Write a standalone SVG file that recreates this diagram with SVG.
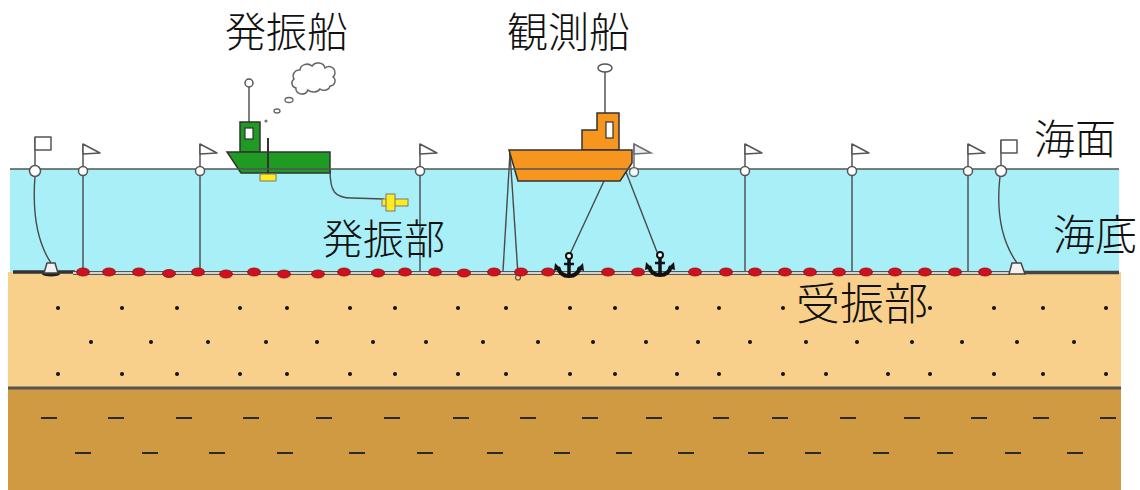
<svg xmlns="http://www.w3.org/2000/svg" width="1140" height="490" viewBox="0 0 1140 490">
  <style>
    .lbl { font-family: "Noto Sans CJK JP", "Noto Sans", sans-serif; font-weight: 300; fill: #111; }
    .line { stroke: #4a4a4a; stroke-width: 1.4; fill: none; }
    .outline { stroke: #333; stroke-width: 1.5; }
    .flag { fill: #fff; stroke: #555; stroke-width: 1.5; stroke-linejoin: round; }
    .buoy { fill: #fff; stroke: #555; stroke-width: 1.5; }
    .rx { fill: #d0101e; stroke: #8a0a10; stroke-width: 0.8; }
    .dot { fill: #111; }
    .dash { stroke: #2a2a2a; stroke-width: 2; }
    .weight { fill: #f2f2f2; stroke: #444; stroke-width: 1.5; }
  </style>
  <defs>
    <g id="anchor">
      <circle cx="0" cy="0" r="3" fill="#fff" stroke="#111" stroke-width="2"/>
      <line x1="0" y1="3" x2="0" y2="18" stroke="#111" stroke-width="3.5"/>
      <line x1="-5" y1="8" x2="5" y2="8" stroke="#111" stroke-width="2.5"/>
      <path d="M-11,11 Q-9,20 0,20 Q9,20 11,11" stroke="#111" stroke-width="4" fill="none"/>
      <polygon points="-14,7 -8,13 -15,15" fill="#111"/>
      <polygon points="14,7 8,13 15,15" fill="#111"/>
    </g>
    <polygon id="tflag" class="flag" points="0,0 17,9 0,10"/>
  </defs>

  <rect width="1140" height="490" fill="#fff"/>

  <!-- ground layers -->
  <g id="sea">
    <rect x="10" y="169" width="1109" height="103" fill="#a9eff7"/>
  </g>
  <g id="sediment">
    <rect x="8" y="272" width="1113" height="116" fill="#f9d08b"/>
    <rect x="8" y="388" width="1113" height="102" fill="#cf9a42"/>
    <line x1="8" y1="388" x2="1121" y2="388" stroke="#555" stroke-width="3"/>
  </g>

  <!-- sand grain dots -->
  <g id="sand-dots">
    <g transform="translate(0,308)">
      <circle class="dot" cx="58" cy="0" r="2"/><circle class="dot" cx="122" cy="0" r="2"/><circle class="dot" cx="177" cy="0" r="2"/><circle class="dot" cx="240" cy="0" r="2"/><circle class="dot" cx="287" cy="0" r="2"/><circle class="dot" cx="350" cy="0" r="2"/><circle class="dot" cx="395" cy="0" r="2"/><circle class="dot" cx="458" cy="0" r="2"/><circle class="dot" cx="506" cy="0" r="2"/><circle class="dot" cx="570" cy="0" r="2"/><circle class="dot" cx="615" cy="0" r="2"/><circle class="dot" cx="677" cy="0" r="2"/><circle class="dot" cx="719" cy="0" r="2"/><circle class="dot" cx="783" cy="0" r="2"/><circle class="dot" cx="930" cy="0" r="2"/><circle class="dot" cx="994" cy="0" r="2"/><circle class="dot" cx="1043" cy="0" r="2"/><circle class="dot" cx="1106" cy="0" r="2"/>
    </g>
    <g transform="translate(0,342)">
      <circle class="dot" cx="91" cy="0" r="2"/><circle class="dot" cx="151" cy="0" r="2"/><circle class="dot" cx="208" cy="0" r="2"/><circle class="dot" cx="266" cy="0" r="2"/><circle class="dot" cx="317" cy="0" r="2"/><circle class="dot" cx="373" cy="0" r="2"/><circle class="dot" cx="426" cy="0" r="2"/><circle class="dot" cx="483" cy="0" r="2"/><circle class="dot" cx="538" cy="0" r="2"/><circle class="dot" cx="593" cy="0" r="2"/><circle class="dot" cx="646" cy="0" r="2"/><circle class="dot" cx="698" cy="0" r="2"/><circle class="dot" cx="750" cy="0" r="2"/><circle class="dot" cx="806" cy="0" r="2"/><circle class="dot" cx="857" cy="0" r="2"/><circle class="dot" cx="912" cy="0" r="2"/><circle class="dot" cx="962" cy="0" r="2"/><circle class="dot" cx="1017" cy="0" r="2"/><circle class="dot" cx="1074" cy="0" r="2"/>
    </g>
    <g transform="translate(0,374)">
      <circle class="dot" cx="58" cy="0" r="2"/><circle class="dot" cx="122" cy="0" r="2"/><circle class="dot" cx="177" cy="0" r="2"/><circle class="dot" cx="240" cy="0" r="2"/><circle class="dot" cx="287" cy="0" r="2"/><circle class="dot" cx="350" cy="0" r="2"/><circle class="dot" cx="395" cy="0" r="2"/><circle class="dot" cx="458" cy="0" r="2"/><circle class="dot" cx="506" cy="0" r="2"/><circle class="dot" cx="570" cy="0" r="2"/><circle class="dot" cx="615" cy="0" r="2"/><circle class="dot" cx="677" cy="0" r="2"/><circle class="dot" cx="719" cy="0" r="2"/><circle class="dot" cx="783" cy="0" r="2"/><circle class="dot" cx="826" cy="0" r="2"/><circle class="dot" cx="888" cy="0" r="2"/><circle class="dot" cx="930" cy="0" r="2"/><circle class="dot" cx="994" cy="0" r="2"/><circle class="dot" cx="1043" cy="0" r="2"/><circle class="dot" cx="1106" cy="0" r="2"/>
    </g>
  </g>

  <!-- bedrock dashes -->
  <g id="rock-dashes">
    <g transform="translate(0,418)">
      <line class="dash" x1="41" y1="0" x2="57" y2="0"/><line class="dash" x1="108" y1="0" x2="124" y2="0"/><line class="dash" x1="176" y1="0" x2="192" y2="0"/><line class="dash" x1="243" y1="0" x2="259" y2="0"/><line class="dash" x1="316" y1="0" x2="332" y2="0"/><line class="dash" x1="384" y1="0" x2="400" y2="0"/><line class="dash" x1="453" y1="0" x2="469" y2="0"/><line class="dash" x1="520" y1="0" x2="536" y2="0"/><line class="dash" x1="582" y1="0" x2="598" y2="0"/><line class="dash" x1="646" y1="0" x2="662" y2="0"/><line class="dash" x1="713" y1="0" x2="729" y2="0"/><line class="dash" x1="772" y1="0" x2="788" y2="0"/><line class="dash" x1="840" y1="0" x2="856" y2="0"/><line class="dash" x1="904" y1="0" x2="920" y2="0"/><line class="dash" x1="971" y1="0" x2="987" y2="0"/><line class="dash" x1="1033" y1="0" x2="1049" y2="0"/><line class="dash" x1="1100" y1="0" x2="1116" y2="0"/>
    </g>
    <g transform="translate(0,453)">
      <line class="dash" x1="75" y1="0" x2="91" y2="0"/><line class="dash" x1="142" y1="0" x2="158" y2="0"/><line class="dash" x1="209" y1="0" x2="225" y2="0"/><line class="dash" x1="277" y1="0" x2="293" y2="0"/><line class="dash" x1="349" y1="0" x2="365" y2="0"/><line class="dash" x1="417" y1="0" x2="433" y2="0"/><line class="dash" x1="487" y1="0" x2="503" y2="0"/><line class="dash" x1="554" y1="0" x2="570" y2="0"/><line class="dash" x1="616" y1="0" x2="632" y2="0"/><line class="dash" x1="678" y1="0" x2="694" y2="0"/><line class="dash" x1="748" y1="0" x2="764" y2="0"/><line class="dash" x1="805" y1="0" x2="821" y2="0"/><line class="dash" x1="873" y1="0" x2="889" y2="0"/><line class="dash" x1="937" y1="0" x2="953" y2="0"/><line class="dash" x1="1005" y1="0" x2="1021" y2="0"/><line class="dash" x1="1067" y1="0" x2="1083" y2="0"/>
    </g>
  </g>

  <!-- connectors: ropes, mooring lines, cables -->
  <g id="connectors">
    <!-- seabed cable -->
    <line x1="13" y1="272" x2="75" y2="272" stroke="#333" stroke-width="3.5"/>
    <line x1="1024" y1="272.5" x2="1119" y2="272.5" stroke="#444" stroke-width="3.5"/>
    <line x1="73" y1="273" x2="1010" y2="273" stroke="#555" stroke-width="4"/>
    <line x1="73" y1="273" x2="1010" y2="273" stroke="#fff" stroke-width="1.6"/>
    <!-- buoy lines -->
    <path class="line" d="M35,176 C32,215 37,242 51,263"/>
    <path class="line" d="M1000,176 C996,212 1002,242 1017,263"/>
    <line class="line" x1="83" y1="175" x2="83" y2="271"/>
    <line class="line" x1="200" y1="175" x2="200" y2="271"/>
    <line class="line" x1="420" y1="175" x2="420" y2="271"/>
    <line class="line" x1="745" y1="175" x2="745" y2="271"/>
    <line class="line" x1="852" y1="175" x2="852" y2="271"/>
    <line class="line" x1="968" y1="175" x2="968" y2="271"/>
    <!-- mooring lines of the observation ship -->
    <line class="line" x1="510" y1="153" x2="503" y2="271"/>
    <line class="line" x1="510" y1="153" x2="518" y2="275"/>
    <circle cx="518" cy="277.5" r="2.5" fill="none" stroke="#555" stroke-width="1.2"/>
    <line class="line" x1="604" y1="181" x2="570" y2="254"/>
    <line class="line" x1="626" y1="172" x2="657" y2="252"/>
    <!-- tow cable to the source -->
    <path class="line" d="M330,170 C330,192 335,198 352,198 L384,199"/>
  </g>

  <!-- receivers on the seabed cable -->
  <g id="receivers">
    <ellipse class="rx" cx="83" cy="272" rx="6.5" ry="4"/>
    <ellipse class="rx" cx="109" cy="272" rx="6.5" ry="4"/>
    <ellipse class="rx" cx="139" cy="272" rx="6.5" ry="4"/>
    <ellipse class="rx" cx="169" cy="273.5" rx="6.5" ry="4"/>
    <ellipse class="rx" cx="198" cy="272" rx="6.5" ry="4"/>
    <ellipse class="rx" cx="226" cy="274" rx="6.5" ry="4"/>
    <ellipse class="rx" cx="254" cy="272" rx="6.5" ry="4"/>
    <ellipse class="rx" cx="284" cy="274" rx="6.5" ry="4"/>
    <ellipse class="rx" cx="318" cy="274" rx="6.5" ry="4"/>
    <ellipse class="rx" cx="344" cy="272" rx="6.5" ry="4"/>
    <ellipse class="rx" cx="378" cy="273" rx="6.5" ry="4"/>
    <ellipse class="rx" cx="405" cy="272" rx="6.5" ry="4"/>
    <ellipse class="rx" cx="435" cy="272" rx="6.5" ry="4"/>
    <ellipse class="rx" cx="464" cy="273" rx="6.5" ry="4"/>
    <ellipse class="rx" cx="494" cy="272" rx="6.5" ry="4"/>
    <ellipse class="rx" cx="521" cy="272" rx="6.5" ry="4"/>
    <ellipse class="rx" cx="548" cy="272" rx="6.5" ry="4"/>
    <ellipse class="rx" cx="608" cy="272" rx="6.5" ry="4"/>
    <ellipse class="rx" cx="638" cy="272" rx="6.5" ry="4"/>
    <ellipse class="rx" cx="695" cy="272" rx="6.5" ry="4"/>
    <ellipse class="rx" cx="726" cy="272" rx="6.5" ry="4"/>
    <ellipse class="rx" cx="755" cy="272" rx="6.5" ry="4"/>
    <ellipse class="rx" cx="785" cy="272" rx="6.5" ry="4"/>
    <ellipse class="rx" cx="810" cy="272" rx="6.5" ry="4"/>
    <ellipse class="rx" cx="839" cy="272" rx="6.5" ry="4"/>
    <ellipse class="rx" cx="866" cy="272" rx="6.5" ry="4"/>
    <ellipse class="rx" cx="895" cy="272" rx="6.5" ry="4"/>
    <ellipse class="rx" cx="925" cy="272" rx="6.5" ry="4"/>
    <ellipse class="rx" cx="955" cy="272" rx="6.5" ry="4"/>
    <ellipse class="rx" cx="985" cy="272" rx="6.5" ry="4"/>
  </g>

  <!-- end weights -->
  <g id="weight-left">
    <ellipse cx="51" cy="274" rx="9" ry="2.5" fill="#222"/>
    <polygon class="weight" points="47,263 55,263 58,273 44,273"/>
  </g>
  <g id="weight-right">
    <polygon class="weight" points="1012,263 1021,263 1025,274 1009,274"/>
  </g>

  <!-- anchors -->
  <g id="anchor-1"><use href="#anchor" x="569" y="256"/></g>
  <g id="anchor-2"><use href="#anchor" x="660" y="255"/></g>

  <!-- source ship -->
  <g id="source-ship">
    <line x1="249" y1="122" x2="249" y2="87" stroke="#555" stroke-width="1.5"/>
    <circle cx="249" cy="83" r="4" fill="#fff" stroke="#555" stroke-width="1.5"/>
    <rect class="outline" x="240" y="122" width="20" height="30" fill="#1f9a22"/>
    <rect x="245" y="128" width="8" height="11" fill="#fff" stroke="#333" stroke-width="1.2"/>
    <polygon class="outline" points="227,152 330,152 330,173 241,173" fill="#1f9a22"/>
    <line x1="268" y1="138" x2="268" y2="175" stroke="#333" stroke-width="2"/>
    <rect x="260" y="174" width="16" height="7" fill="#ffec1c" stroke="#777" stroke-width="1"/>
    <!-- smoke -->
    <circle cx="266" cy="121" r="1.6" fill="#777"/>
    <ellipse cx="277" cy="111" rx="3" ry="2" fill="#fff" stroke="#666" stroke-width="1.3"/>
    <ellipse cx="289" cy="100" rx="4" ry="2.5" fill="#fff" stroke="#666" stroke-width="1.3"/>
    <path d="M296,88 a5,5 0 0 1 -2,-9 a6,6 0 0 1 6,-9 a7,6 0 0 1 12,-4 a7,6 0 0 1 13,2 a6,6 0 0 1 8,9 a5,5 0 0 1 -3,9 a6,5 0 0 1 -10,3 a7,5 0 0 1 -12,1 a6,5 0 0 1 -12,-2 z" fill="#fff" stroke="#666" stroke-width="1.5"/>
  </g>

  <!-- source (transducer) -->
  <g id="source">
    <rect x="382" y="199" width="26" height="7" fill="#ffec1c" stroke="#777" stroke-width="1"/>
    <rect x="386" y="194" width="9" height="17" fill="#ffec1c" stroke="#777" stroke-width="1"/>
  </g>

  <!-- observation ship -->
  <g id="observation-ship">
    <line x1="605" y1="113" x2="605" y2="72" stroke="#555" stroke-width="1.5"/>
    <ellipse cx="605" cy="68" rx="7" ry="4" fill="#fff" stroke="#555" stroke-width="1.5"/>
    <path class="outline" d="M582,150 V130 H597 V113 H619 V150 Z" fill="#f7961e"/>
    <rect x="606" y="122" width="7" height="16" fill="#fff" stroke="#333" stroke-width="1.2"/>
    <polygon class="outline" points="509,150 632,150 632,163 620,181 518,181" fill="#f7961e"/>
  </g>

  <!-- sea surface -->
  <line x1="10" y1="169" x2="1119" y2="169" stroke="#555" stroke-width="1.5"/>

  <!-- marker buoys -->
  <g id="buoy-left">
    <line x1="35" y1="166" x2="35" y2="137" stroke="#555" stroke-width="1.5"/>
    <rect class="flag" x="35" y="137" width="16" height="13"/>
    <circle class="buoy" cx="35" cy="171" r="5.5"/>
  </g>
  <g id="buoy-83"><line x1="83" y1="167" x2="83" y2="144" stroke="#555" stroke-width="1.5"/><use href="#tflag" x="83" y="144"/><circle class="buoy" cx="83" cy="171" r="4.5"/></g>
  <g id="buoy-200"><line x1="200" y1="167" x2="200" y2="144" stroke="#555" stroke-width="1.5"/><use href="#tflag" x="200" y="144"/><circle class="buoy" cx="200" cy="171" r="4.5"/></g>
  <g id="buoy-420"><line x1="420" y1="167" x2="420" y2="144" stroke="#555" stroke-width="1.5"/><use href="#tflag" x="420" y="144"/><circle class="buoy" cx="420" cy="171" r="4.5"/></g>
  <g id="buoy-634" opacity="0.85"><line x1="634" y1="167" x2="634" y2="144" stroke="#555" stroke-width="1.5"/><polygon points="634,144 651,153 634,154" fill="#c9dce6" fill-opacity="0.6" stroke="#555" stroke-width="1.5"/><circle class="buoy" cx="634" cy="172" r="4.5"/></g>
  <g id="buoy-745"><line x1="745" y1="167" x2="745" y2="144" stroke="#555" stroke-width="1.5"/><use href="#tflag" x="745" y="144"/><circle class="buoy" cx="745" cy="171" r="4.5"/></g>
  <g id="buoy-852"><line x1="852" y1="167" x2="852" y2="144" stroke="#555" stroke-width="1.5"/><use href="#tflag" x="852" y="144"/><circle class="buoy" cx="852" cy="171" r="4.5"/></g>
  <g id="buoy-968"><line x1="968" y1="167" x2="968" y2="144" stroke="#555" stroke-width="1.5"/><use href="#tflag" x="968" y="144"/><circle class="buoy" cx="968" cy="171" r="4.5"/></g>
  <g id="buoy-right">
    <line x1="1001" y1="166" x2="1001" y2="140" stroke="#555" stroke-width="1.5"/>
    <rect class="flag" x="1001" y="140" width="16" height="13"/>
    <circle class="buoy" cx="1001" cy="171" r="5.5"/>
  </g>

  <!-- labels -->
  <g id="labels">
    <text class="lbl" x="225" y="47" font-size="41">発振船</text>
    <text class="lbl" x="507" y="47" font-size="41">観測船</text>
    <text class="lbl" x="322" y="254" font-size="41">発振部</text>
    <text class="lbl" x="1034" y="154" font-size="41">海面</text>
    <text class="lbl" x="1053" y="250" font-size="42">海底</text>
    <text class="lbl" x="796" y="320" font-size="44">受振部</text>
  </g>
</svg>
